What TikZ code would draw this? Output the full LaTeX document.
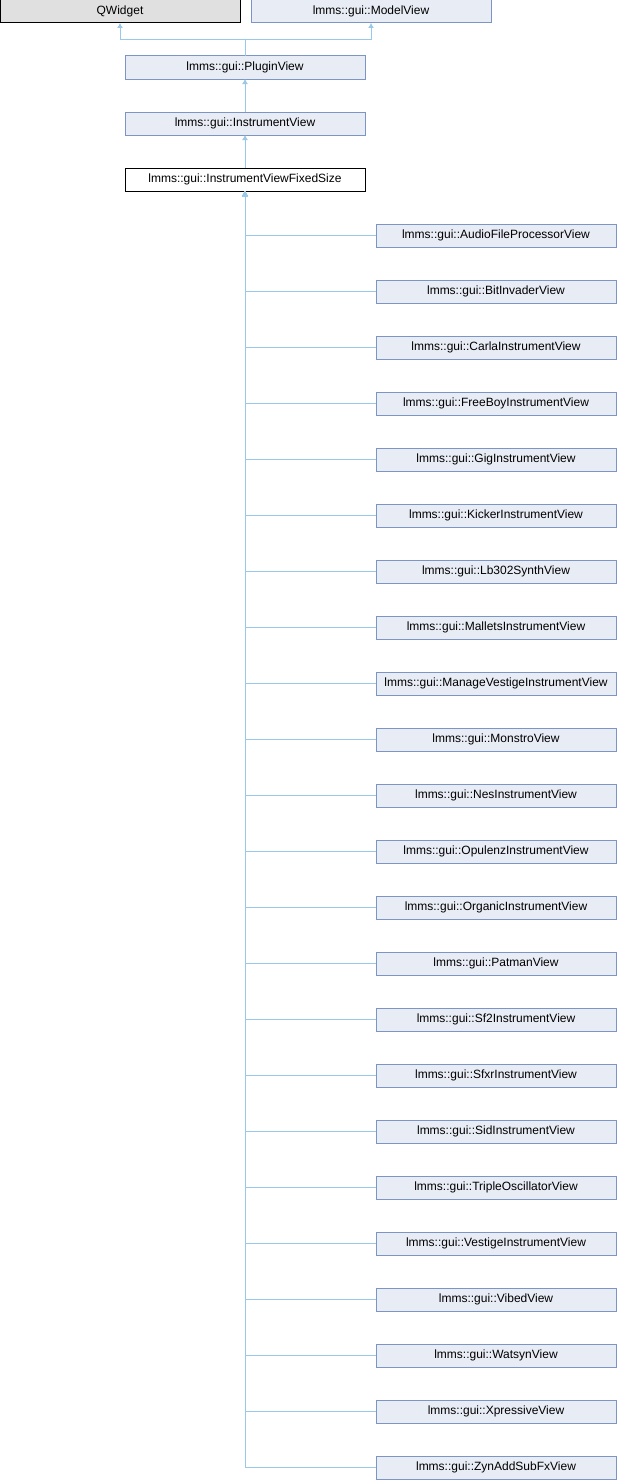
\documentclass[tikz,border=0pt]{standalone}
\usepackage{fontspec}
\setmainfont{Liberation Sans}
\usepackage{tikz}
\usetikzlibrary{shapes,arrows.meta,positioning}
\definecolor{boxfill}{RGB}{232, 236, 245}
\definecolor{boxline}{RGB}{124, 149, 198}
\definecolor{qtfill}{RGB}{224, 224, 224}
\definecolor{edgeblue}{RGB}{154, 200, 232}
\tikzstyle{cls} = [rectangle, draw=boxline, line width=1pt, fill=boxfill, text=black, text centered, font=\fontsize{12}{14}\selectfont, minimum width=240pt, minimum height=23pt, inner sep=0pt, outer sep=0pt]
\tikzstyle{extcls} = [cls, draw=black, fill=qtfill]
\tikzstyle{curcls} = [cls, draw=black, fill=white]
\tikzstyle{tedge}  = [draw, edgeblue, line width=1pt, >={Latex[length=5pt,width=6pt]}, <-]

\begin{document}
\begin{tikzpicture}[x=1pt, y=1pt]
\useasboundingbox (0,0) rectangle (617,-1480);

% bases =============================

\node[extcls] (qwidget) at (120,-11.5) {QWidget};
\node[cls, right=11pt of qwidget] (modelview) {lmms::gui::ModelView};
\node[cls] (plugin) at (245,-67.5) {lmms::gui::PluginView};
\node[cls, below=33pt of plugin] (instr) {lmms::gui::InstrumentView};
\node[curcls, below=33pt of instr] (fixed) {lmms::gui::InstrumentViewFixedSize};

% derived views
\node[cls, below right=33pt and 11pt of fixed] (afp) {lmms::gui::AudioFileProcessorView};
\node[cls, below=33pt of afp] (bitinv) {lmms::gui::BitInvaderView};
\node[cls, below=33pt of bitinv] (carla) {lmms::gui::CarlaInstrumentView};
\node[cls, below=33pt of carla] (freeboy) {lmms::gui::FreeBoyInstrumentView};
\node[cls, below=33pt of freeboy] (gig) {lmms::gui::GigInstrumentView};
\node[cls, below=33pt of gig] (kicker) {lmms::gui::KickerInstrumentView};
\node[cls, below=33pt of kicker] (lb302) {lmms::gui::Lb302SynthView};
\node[cls, below=33pt of lb302] (mallets) {lmms::gui::MalletsInstrumentView};
\node[cls, below=33pt of mallets] (mvestige) {lmms::gui::ManageVestigeInstrumentView};
\node[cls, below=33pt of mvestige] (monstro) {lmms::gui::MonstroView};
\node[cls, below=33pt of monstro] (nes) {lmms::gui::NesInstrumentView};
\node[cls, below=33pt of nes] (opulenz) {lmms::gui::OpulenzInstrumentView};
\node[cls, below=33pt of opulenz] (organic) {lmms::gui::OrganicInstrumentView};
\node[cls, below=33pt of organic] (patman) {lmms::gui::PatmanView};
\node[cls, below=33pt of patman] (sf2) {lmms::gui::Sf2InstrumentView};
\node[cls, below=33pt of sf2] (sfxr) {lmms::gui::SfxrInstrumentView};
\node[cls, below=33pt of sfxr] (sid) {lmms::gui::SidInstrumentView};
\node[cls, below=33pt of sid] (triple) {lmms::gui::TripleOscillatorView};
\node[cls, below=33pt of triple] (vestige) {lmms::gui::VestigeInstrumentView};
\node[cls, below=33pt of vestige] (vibed) {lmms::gui::VibedView};
\node[cls, below=33pt of vibed] (watsyn) {lmms::gui::WatsynView};
\node[cls, below=33pt of watsyn] (xpressive) {lmms::gui::XpressiveView};
\node[cls, below=33pt of xpressive] (zyn) {lmms::gui::ZynAddSubFxView};

%edges
\path[tedge] (qwidget.south) -- ([yshift=-17pt]qwidget.south) -| (plugin.north);
\path[tedge] (modelview.south) -- ([yshift=-17pt]modelview.south) -| (plugin.north);
\path[tedge] (plugin) -- (instr);
\path[tedge] (instr) -- (fixed);

\path[tedge] (fixed.south) |- (afp.west);
\path[tedge] (fixed.south) |- (bitinv.west);
\path[tedge] (fixed.south) |- (carla.west);
\path[tedge] (fixed.south) |- (freeboy.west);
\path[tedge] (fixed.south) |- (gig.west);
\path[tedge] (fixed.south) |- (kicker.west);
\path[tedge] (fixed.south) |- (lb302.west);
\path[tedge] (fixed.south) |- (mallets.west);
\path[tedge] (fixed.south) |- (mvestige.west);
\path[tedge] (fixed.south) |- (monstro.west);
\path[tedge] (fixed.south) |- (nes.west);
\path[tedge] (fixed.south) |- (opulenz.west);
\path[tedge] (fixed.south) |- (organic.west);
\path[tedge] (fixed.south) |- (patman.west);
\path[tedge] (fixed.south) |- (sf2.west);
\path[tedge] (fixed.south) |- (sfxr.west);
\path[tedge] (fixed.south) |- (sid.west);
\path[tedge] (fixed.south) |- (triple.west);
\path[tedge] (fixed.south) |- (vestige.west);
\path[tedge] (fixed.south) |- (vibed.west);
\path[tedge] (fixed.south) |- (watsyn.west);
\path[tedge] (fixed.south) |- (xpressive.west);
\path[tedge] (fixed.south) |- (zyn.west);

\end{tikzpicture}
\end{document}
